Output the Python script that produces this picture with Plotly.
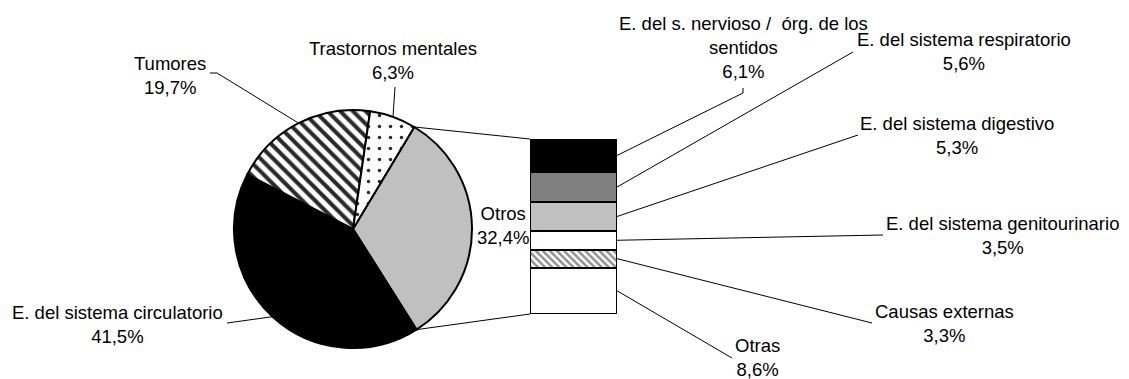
import math
import plotly.graph_objects as go

W, H = 1129, 379

# ----- data -----
pie_labels = ["Otros", "E. del sistema circulatorio", "Tumores", "Trastornos mentales"]
pie_values = [32.4, 41.5, 19.7, 6.3]
pie_colors = ["#c0c0c0", "#000000", "#ffffff", "#ffffff"]
pie_shapes = ["", "", "\\", "."]

# bar segments, bottom to top
bar_labels = ["Otras", "Causas externas", "E. del sistema genitourinario",
              "E. del sistema digestivo", "E. del sistema respiratorio",
              "E. del s. nervioso /\u00a0 órg. de los<br>sentidos"]
bar_values = [8.6, 3.3, 3.5, 5.3, 5.6, 6.1]
bar_colors = ["#ffffff", "#ffffff", "#ffffff", "#c0c0c0", "#808080", "#000000"]
bar_shapes = ["", "\\", "", "", "", ""]

# ----- layout geometry (pixels) -----
CX, CY, R = 353, 229, 119          # pie centre / radius
BX0, BX1, BY0, BY1 = 530, 617, 139, 314   # bar box (top / bottom)
ROT = 31

FONT = dict(family="Liberation Sans, Arial, sans-serif", size=18.5, color="#000000")


def px(x):
    return x / W


def py(y):
    return 1 - y / H


def fmt(v):
    return f"{v:.1f}".replace(".", ",") + "%"


fig = go.Figure()

fig.add_trace(go.Pie(
    labels=pie_labels, values=pie_values, sort=False, direction="clockwise",
    rotation=ROT, textinfo="none", hoverinfo="label+percent",
    domain=dict(x=[px(CX - R), px(CX + R)], y=[py(CY + R), py(CY - R)]),
    marker=dict(colors=pie_colors, line=dict(color="#000000", width=2),
                pattern=dict(shape=pie_shapes, fgcolor="#2a2a2a", bgcolor="#ffffff",
                             size=[8, 8, 9, 11], solidity=[0.3, 0.3, 0.45, 0.08])),
    showlegend=False,
))

for lab, val, col, shp in zip(bar_labels, bar_values, bar_colors, bar_shapes):
    fig.add_trace(go.Bar(
        x=[0], y=[val], name=lab, width=[1], xaxis="x", yaxis="y",
        marker=dict(color=col, line=dict(color="#000000", width=2.5),
                    pattern=dict(shape=shp, fgcolor="#222222", bgcolor="#ffffff",
                                 size=5, solidity=0.5)),
        showlegend=False, hoverinfo="name+y",
    ))

total = sum(bar_values)
fig.update_layout(
    width=W, height=H, autosize=False,
    margin=dict(l=0, r=0, t=0, b=0),
    paper_bgcolor="white", plot_bgcolor="rgba(0,0,0,0)",
    barmode="stack", bargap=0,
    xaxis=dict(domain=[px(BX0), px(BX1)], range=[-0.5, 0.5], visible=False, fixedrange=True),
    yaxis=dict(domain=[py(BY1), py(BY0)], range=[0, total], visible=False, fixedrange=True),
    font=FONT,
)


# ----- derived geometry for connectors -----
def pie_point(angle_deg, rad=R):
    a = math.radians(angle_deg)
    return CX + rad * math.sin(a), CY - rad * math.cos(a)


angles = []
acc = ROT
tot_pie = sum(pie_values)
for v in pie_values:
    a0 = acc
    acc += v / tot_pie * 360
    angles.append((a0, acc))

bar_mid = []
acc = 0
for v in bar_values:
    mid = acc + v / 2
    bar_mid.append(BY1 - mid / total * (BY1 - BY0))
    acc += v

shapes = []


def line_path(points):
    d = "M " + " L ".join(f"{px(x)},{py(y)}" for x, y in points)
    shapes.append(dict(type="path", path=d, xref="paper", yref="paper",
                       line=dict(color="#000000", width=1)))


# pie -> bar connectors
line_path([pie_point(angles[0][0]), (BX0, BY0)])
line_path([pie_point(angles[0][1]), (BX0, BY1)])

# pie labels: (text centre x, y), leader start
pie_label_pos = [(503, 225.5, None), (117.5, 324.5, [(227, 323)]),
                 (170, 75, [(210, 73), (217, 73)]), (393, 60.5, [(395, 87)])]
annotations = []
for i, (lab, val) in enumerate(zip(pie_labels, pie_values)):
    x, y, lead = pie_label_pos[i]
    annotations.append(dict(x=px(x), y=py(y), xref="paper", yref="paper",
                            text=f"{lab}<br>{fmt(val)}", showarrow=False,
                            xanchor="center", yanchor="middle", font=FONT))
    if lead:
        mid = (angles[i][0] + angles[i][1]) / 2
        line_path(lead + [pie_point(mid)])

# bar labels
bar_label_pos = [(757, 357.5, [(732, 358)]), (944, 323.5, [(872, 323)]),
                 (1002, 235.5, [(883, 235)]), (957, 135.5, [(858, 135)]),
                 (964, 51, [(853, 52)]), (743, 47.5, [(743, 88), (743, 93)])]
for i, (lab, val) in enumerate(zip(bar_labels, bar_values)):
    x, y, lead = bar_label_pos[i]
    annotations.append(dict(x=px(x), y=py(y), xref="paper", yref="paper",
                            text=f"{lab}<br>{fmt(val)}", showarrow=False,
                            xanchor="center", yanchor="middle", font=FONT))
    line_path(lead + [(BX1, bar_mid[i])])

fig.update_layout(shapes=shapes, annotations=annotations)

# drop the browser's default body margin so the figure fills the window
fig.write_html("out.html", config={"displayModeBar": False},
               post_script="document.body.style.margin = '0';")
